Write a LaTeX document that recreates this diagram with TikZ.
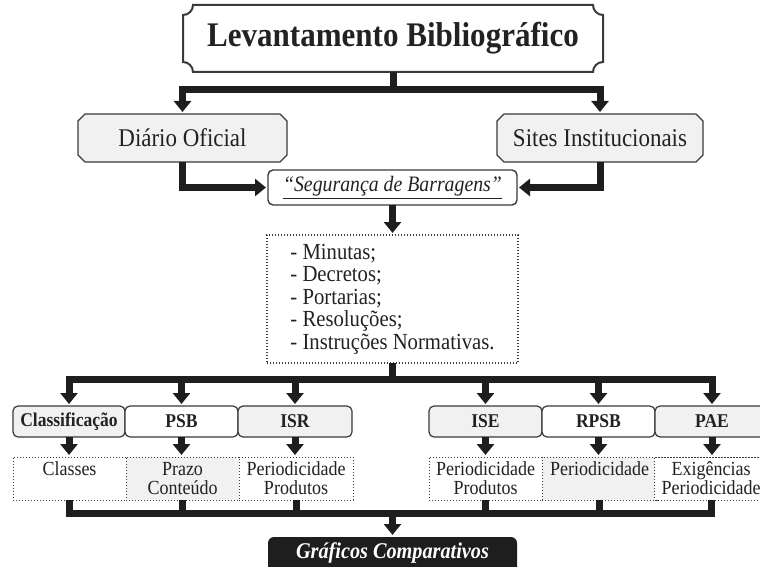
\documentclass[tikz,border=0pt]{standalone}
\usepackage{fontspec}
\setmainfont{Liberation Serif}[FakeStretch=0.9]
\usetikzlibrary{arrows.meta,calc,backgrounds}
\definecolor{ink}{HTML}{1E1E1E}
\definecolor{edge}{HTML}{3A3A3A}
\definecolor{pale}{HTML}{F1F1F1}
\definecolor{txt}{HTML}{222222}
\newcommand{\chamfbox}[3]{%
  \begin{scope}[on background layer]
  \filldraw[fill=#2, draw=edge, line width=1.4pt]
    ($(#1.north west)+(#3,0)$) -- ($(#1.north east)+(-#3,0)$) -- ($(#1.north east)+(0,-#3)$)
    -- ($(#1.south east)+(0,#3)$) -- ($(#1.south east)+(-#3,0)$) -- ($(#1.south west)+(#3,0)$)
    -- ($(#1.south west)+(0,#3)$) -- ($(#1.north west)+(0,-#3)$) -- cycle;
  \end{scope}}
\begin{document}
\begin{tikzpicture}[x=1pt,y=1pt,
  every node/.style={inner sep=0pt, outer sep=0pt, text=txt},
  conn/.style={draw=ink, line width=7pt},
  arr/.style={conn, -{Triangle[width=17pt,length=11pt]}, shorten >=2pt},
  srcbox/.style={rectangle, font=\fontsize{25.5}{29}\selectfont},
  rowbox/.style={draw=edge, line width=1.2pt, rounded corners=5pt, minimum height=31, font=\fontsize{19.5}{22}\selectfont\bfseries},
  dbox/.style={draw=edge, line width=1pt, dash pattern=on 1.4pt off 1.6pt, minimum height=43, align=center, font=\fontsize{20}{19}\selectfont},
]
\useasboundingbox (0,0) rectangle (760,-567);

% title plaque
\filldraw[fill=white, draw=edge, line width=2pt] (193,-5) -- (593,-5) arc[start angle=180,end angle=270,radius=10] -- (603,-62) arc[start angle=90,end angle=180,radius=10] -- (193,-72) arc[start angle=0,end angle=90,radius=10] -- (183,-15) arc[start angle=270,end angle=360,radius=10] -- cycle;
\node[font=\fontsize{34.5}{38}\selectfont\bfseries, minimum width=420, minimum height=67] (top) at (393,-38.5) {Levantamento Bibliográfico};

% sources
\node[srcbox, minimum width=209, minimum height=48] (dia) at (182.5,-138) {Diário Oficial};
\chamfbox{dia}{pale}{7}
\node[srcbox, minimum width=206, minimum height=48] (sit) at (600,-138) {Sites Institucionais};
\chamfbox{sit}{pale}{7}
\node[draw=edge, line width=1.4pt, fill=white, rounded corners=5pt, minimum width=249, minimum height=35, font=\fontsize{22}{26}\selectfont] (seg) at (392.5,-187.5) {\underline{\textit{“Segurança de Barragens”}}};
\node[draw=edge, line width=1.2pt, dash pattern=on 1.4pt off 1.6pt, minimum width=251, minimum height=128, align=left, font=\fontsize{23}{22.5}\selectfont] (lst) at (392.5,-299) {- Minutas;\\- Decretos;\\- Portarias;\\- Resoluções;\\- Instruções Normativas.};

% row of categories
\node[rowbox, fill=pale, minimum width=112] (clas) at (69,-421.5) {Classificação};
\node[rowbox, fill=white, minimum width=113] (psb) at (181.5,-421.5) {PSB};
\node[rowbox, fill=pale, minimum width=114] (isr) at (295,-421.5) {ISR};
\node[rowbox, fill=pale, minimum width=113] (ise) at (485.5,-421.5) {ISE};
\node[rowbox, fill=white, minimum width=113] (rpsb) at (598.5,-421.5) {RPSB};
\node[rowbox, fill=pale, minimum width=114] (pae) at (712,-421.5) {PAE};

% detail boxes
\node[dbox, fill=white, minimum width=113] (d1) at (69.5,-478.5) {Classes\\\mbox{}};
\node[dbox, fill=pale, minimum width=113] (d2) at (182.5,-478.5) {Prazo\\Conteúdo};
\node[dbox, fill=white, minimum width=114] (d3) at (296,-478.5) {Periodicidade\\Produtos};
\node[dbox, fill=white, minimum width=113] (d4) at (485.5,-478.5) {Periodicidade\\Produtos};
\node[dbox, fill=pale, minimum width=115] (d5) at (599.5,-478.5) {Periodicidade\\\mbox{}};
\node[dbox, fill=white, minimum width=113] (d6) at (711,-478.5) {Exigências\\Periodicidade};

% result
\fill[ink, rounded corners=6pt] (268,-537) rectangle (517,-600);
\node[font=\fontsize{22.5}{26}\selectfont\bfseries\itshape, text=white, minimum width=249, minimum height=32] (graf) at (392.5,-553) {Gráficos Comparativos};

% connectors
\coordinate (b1) at (393,-90);
\draw[conn] (top.south) -- (b1);
\draw[arr] (b1) -| (dia.north);
\draw[arr] (b1) -| (sit.north);
\draw[arr] (dia.south) |- (seg.west);
\draw[arr] (sit.south) |- (seg.east);
\draw[arr] (seg.south) -- (lst.north);
\coordinate (b2) at (392.5,-379);
\draw[conn] (lst.south) -- (b2);
\foreach \n in {clas,psb,isr,ise,rpsb,pae} \draw[arr] (b2) -| (\n.north);
\draw[arr] (clas.south) -- (d1.north -| clas.south);
\draw[arr] (psb.south) -- (d2.north -| psb.south);
\draw[arr] (isr.south) -- (d3.north -| isr.south);
\draw[arr] (ise.south) -- (d4.north -| ise.south);
\draw[arr] (rpsb.south) -- (d5.north -| rpsb.south);
\draw[arr] (pae.south) -- (d6.north -| pae.south);
\coordinate (b3) at (392.5,-513);
\foreach \n in {d1,d2,d3,d4,d5,d6} \draw[conn] (\n.south) |- (b3);
\draw[arr] (b3) -- (graf.north);
\end{tikzpicture}
\end{document}
